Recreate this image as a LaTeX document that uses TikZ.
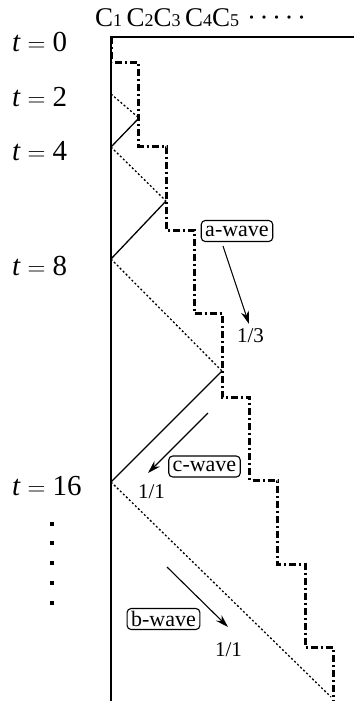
\documentclass[tikz,border=0pt]{standalone}
\usepackage{fontspec}
\setmainfont{Liberation Serif}
\usetikzlibrary{arrows.meta}
\newcommand{\cidx}[1]{{\fontsize{18}{20}\selectfont #1}}
\begin{document}
\begin{tikzpicture}[x=1pt,y=-1pt,
  tlabel/.style={anchor=base west,inner sep=0pt,font=\fontsize{29}{32}\selectfont},
  wavebox/.style={draw,rounded corners=4pt,line width=1.1pt,inner xsep=4pt,inner ysep=0.5pt,minimum height=21pt,font=\fontsize{22}{24}\selectfont},
  ratio/.style={inner sep=1pt,font=\fontsize{21}{24}\selectfont},
  wavearrow/.style={line width=1.1pt,-{Stealth[length=13pt,width=8pt]}},
  incident/.style={line width=1.3pt},
  reflected/.style={line width=1.3pt,dash pattern=on 2pt off 2.2pt},
  front/.style={line width=3pt,dash pattern=on 7pt off 3pt on 2pt off 3pt}]
  \useasboundingbox (0,0) rectangle (354,701);

  % wall and top edge
  \draw[line width=1.5pt] (354,37) -- (111,37) -- (111,701);
  \node[anchor=base west,inner sep=0pt,font=\fontsize{27}{30}\selectfont] (cols) at (95,27)
    {C\cidx{1}\,C\cidx{2}C\cidx{3}\,C\cidx{4}C\cidx{5}\hspace{8pt}·\hspace{3.5pt}·\hspace{3.5pt}·\hspace{3.5pt}·\hspace{3.5pt}·};

  % time marks
  \node[tlabel] (t0) at (12,52) {\textit{t}$\;=\;$0};
  \node[tlabel] (t2) at (12,106) {\textit{t}$\;=\;$2};
  \node[tlabel] (t4) at (12,160) {\textit{t}$\;=\;$4};
  \node[tlabel] (t8) at (12,275) {\textit{t}$\;=\;$8};
  \node[tlabel] (t16) at (12,495) {\textit{t}$\;=\;$16};
  \foreach \y in {524,543,563,583,603} {
    \fill (50,\y-2) rectangle ++(4,4);
  }

  % reflections at the wall
  \coordinate (w2) at (111,94);
  \coordinate (w4) at (111,147);
  \coordinate (w8) at (111,259);
  \coordinate (w16) at (111,482);
  \coordinate (s1) at (139,118);
  \coordinate (s2) at (166,201);
  \coordinate (s3) at (222,371);
  \coordinate (s4) at (331,697);
  \draw[reflected] (w2) -- (s1);
  \draw[incident] (s1) -- (w4);
  \draw[reflected] (w4) -- (s2);
  \draw[incident] (s2) -- (w8);
  \draw[reflected] (w8) -- (s3);
  \draw[incident] (s3) -- (w16);
  \draw[reflected] (w16) -- (s4);

  % staircase front
  \draw[front] (111,37) -- (111,63)
    \foreach \k in {1,...,7} { -- ++(27.75,0) -- ++(0,83.5) } -- ++(27.75,0) -- (333,701);

  % wave labels
  \node[wavebox] (awave) at (237,231) {a-wave};
  \node[ratio] (aratio) at (250.5,335.5) {1/3};
  \coordinate (afrom) at (223,246);
  \coordinate (ato) at (249,324);
  \draw[wavearrow] (afrom) -- (ato);

  \node[wavebox] (cwave) at (204.5,466.5) {c-wave};
  \node[ratio] (cratio) at (151.5,492) {1/1};
  \coordinate (cfrom) at (208,413);
  \coordinate (cto) at (148,473);
  \draw[wavearrow] (cfrom) -- (cto);

  \node[wavebox] (bwave) at (163.5,619) {b-wave};
  \node[ratio] (bratio) at (228.5,650) {1/1};
  \coordinate (bfrom) at (167,567);
  \coordinate (bto) at (228,627);
  \draw[wavearrow] (bfrom) -- (bto);
\end{tikzpicture}
\end{document}
